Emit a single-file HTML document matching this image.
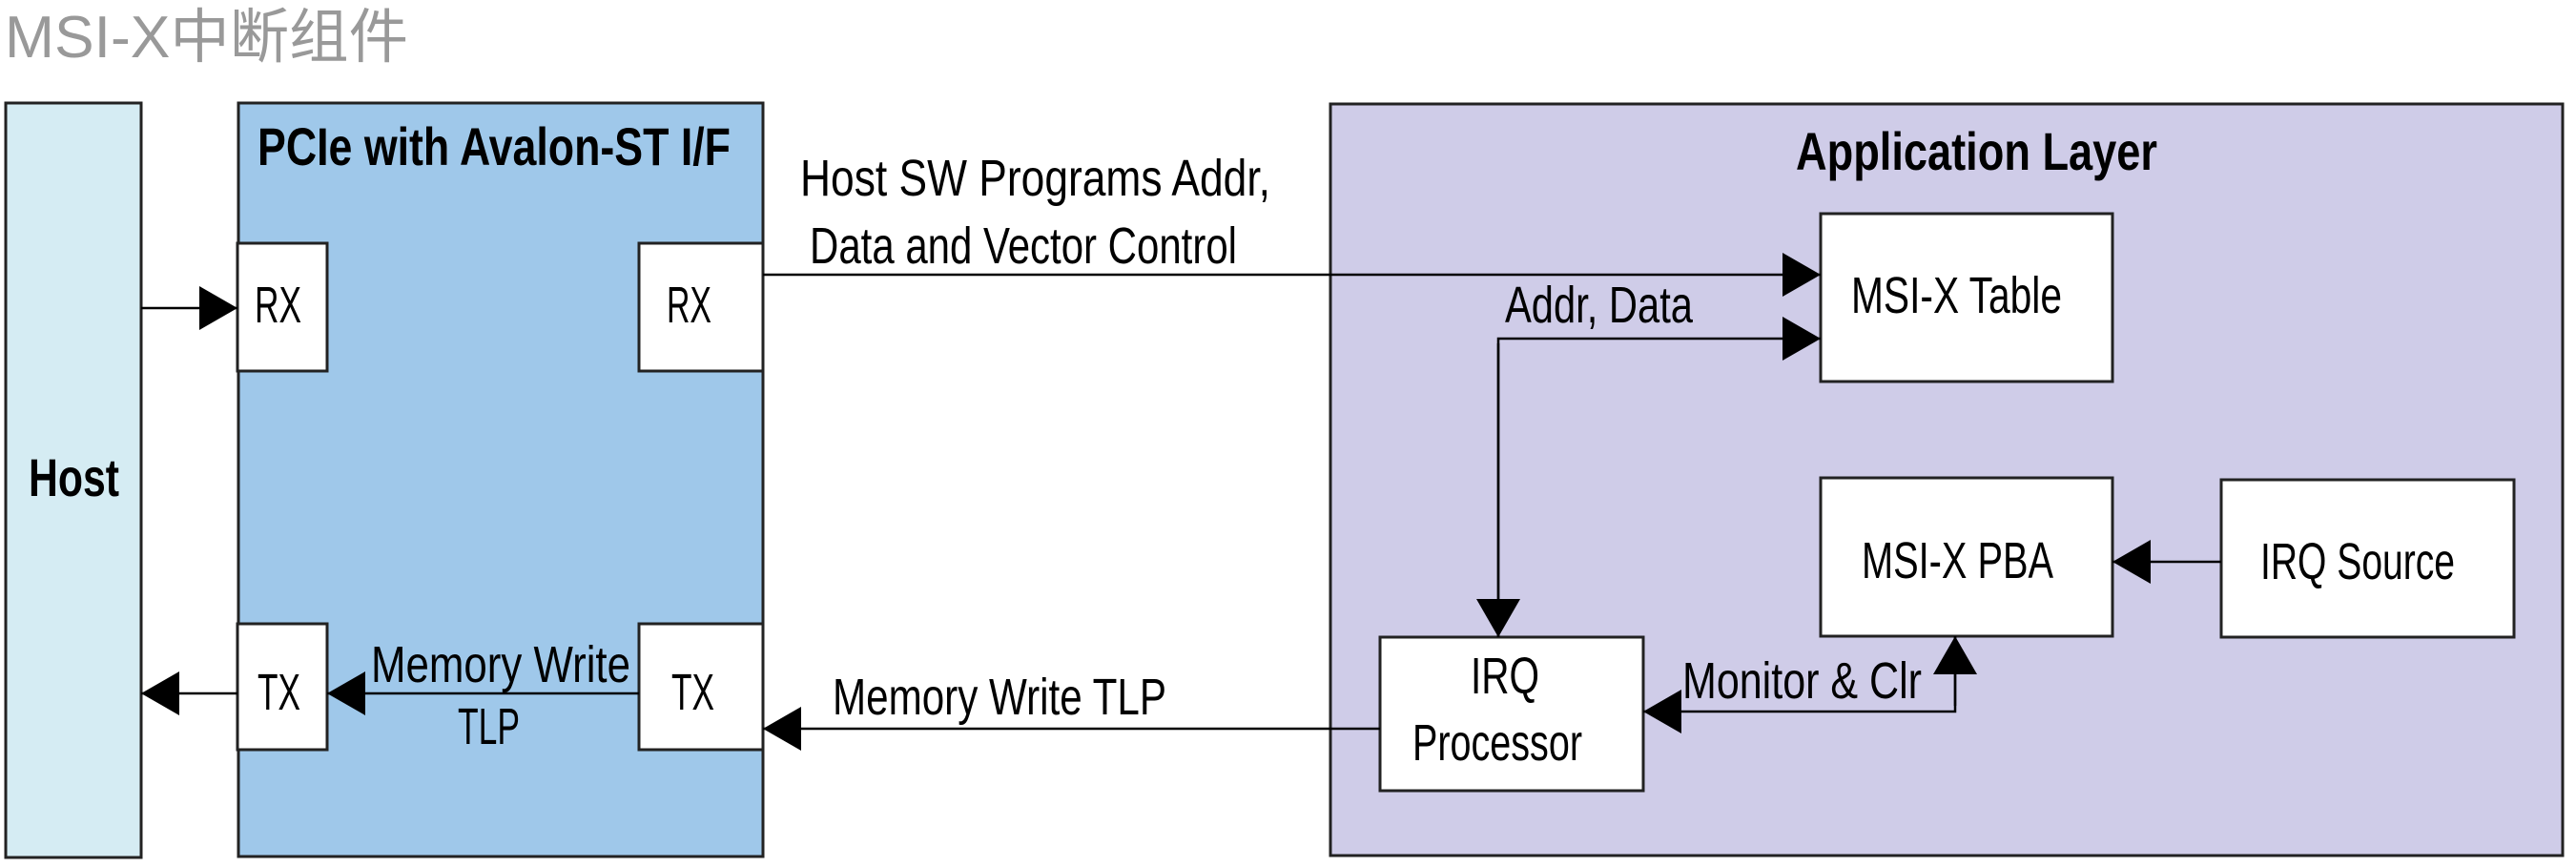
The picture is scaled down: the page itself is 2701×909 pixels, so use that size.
<!DOCTYPE html>
<html><head><meta charset="utf-8"><style>html,body{margin:0;padding:0;background:#fff}svg{display:block}</style></head>
<body>
<svg width="2701" height="909" viewBox="0 0 2701 909" xmlns="http://www.w3.org/2000/svg">
<defs>
<marker id="a" viewBox="0 0 40 46" markerWidth="40" markerHeight="46" refX="40" refY="23" orient="auto" markerUnits="userSpaceOnUse"><path d="M0,0 L40,23 L0,46 Z" fill="#000"/></marker>
</defs>
<g font-family="'Liberation Sans Narrow','Liberation Sans',sans-serif" fill="#000">
<text x="5" y="60" font-size="62" fill="#999" font-family="'Liberation Sans','Noto Sans CJK SC',sans-serif" textLength="423" lengthAdjust="spacingAndGlyphs">MSI-X中断组件</text>

<rect x="6" y="108" width="142" height="791" fill="#d5ecf3" stroke="#222" stroke-width="3"/>
<rect x="250" y="108" width="550" height="790" fill="#9fc8ea" stroke="#222" stroke-width="3"/>
<rect x="1395" y="109" width="1292" height="788" fill="#cfcce8" stroke="#222" stroke-width="3"/>

<text x="30" y="520" font-size="56" font-weight="bold" textLength="95" lengthAdjust="spacingAndGlyphs">Host</text>
<text x="270" y="173" font-size="56" font-weight="bold" textLength="496" lengthAdjust="spacingAndGlyphs">PCIe with Avalon-ST I/F</text>
<text x="1883" y="178" font-size="56" font-weight="bold" textLength="379" lengthAdjust="spacingAndGlyphs">Application Layer</text>

<g fill="#fff" stroke="#222" stroke-width="3">
<rect x="249" y="255" width="94" height="134"/>
<rect x="670" y="255" width="130" height="134"/>
<rect x="249" y="654" width="94" height="132"/>
<rect x="670" y="654" width="130" height="132"/>
<rect x="1909" y="224" width="306" height="176"/>
<rect x="1909" y="501" width="306" height="166"/>
<rect x="2329" y="503" width="307" height="165"/>
<rect x="1447" y="668" width="276" height="161"/>
</g>

<g font-size="54">
<text x="267" y="338" textLength="49" lengthAdjust="spacingAndGlyphs">RX</text>
<text x="699" y="338" textLength="47" lengthAdjust="spacingAndGlyphs">RX</text>
<text x="270" y="744" textLength="45" lengthAdjust="spacingAndGlyphs">TX</text>
<text x="704" y="744" textLength="45" lengthAdjust="spacingAndGlyphs">TX</text>
<text x="389" y="715" textLength="272" lengthAdjust="spacingAndGlyphs">Memory Write</text>
<text x="480" y="780" textLength="65" lengthAdjust="spacingAndGlyphs">TLP</text>
<text x="839" y="205" textLength="493" lengthAdjust="spacingAndGlyphs">Host SW Programs Addr,</text>
<text x="849" y="276" textLength="448" lengthAdjust="spacingAndGlyphs">Data and Vector Control</text>
<text x="1578" y="338" textLength="197" lengthAdjust="spacingAndGlyphs">Addr, Data</text>
<text x="1941" y="328" textLength="221" lengthAdjust="spacingAndGlyphs">MSI-X Table</text>
<text x="1952" y="606" textLength="201" lengthAdjust="spacingAndGlyphs">MSI-X PBA</text>
<text x="2370" y="607" textLength="204" lengthAdjust="spacingAndGlyphs">IRQ Source</text>
<text x="1542" y="727" textLength="72" lengthAdjust="spacingAndGlyphs">IRQ</text>
<text x="1481" y="797" textLength="178" lengthAdjust="spacingAndGlyphs">Processor</text>
<text x="1764" y="732" textLength="251" lengthAdjust="spacingAndGlyphs">Monitor &amp; Clr</text>
<text x="873" y="749" textLength="350" lengthAdjust="spacingAndGlyphs">Memory Write TLP</text>
</g>

<g stroke="#000" stroke-width="2.5" fill="none">
<line x1="148" y1="323" x2="249" y2="323" marker-end="url(#a)"/>
<line x1="249" y1="727" x2="148" y2="727" marker-end="url(#a)"/>
<line x1="670" y1="727" x2="343" y2="727" marker-end="url(#a)"/>
<line x1="800" y1="288" x2="1909" y2="288" marker-end="url(#a)"/>
<polyline points="1571,668 1571,355 1909,355" marker-end="url(#a)"/>
<line x1="1571" y1="360" x2="1571" y2="668" marker-end="url(#a)"/>
<line x1="2329" y1="589" x2="2215" y2="589" marker-end="url(#a)"/>
<polyline points="2050,667 2050,746 1723,746" marker-end="url(#a)"/>
<line x1="2050" y1="740" x2="2050" y2="667" marker-end="url(#a)"/>
<line x1="1447" y1="764" x2="800" y2="764" marker-end="url(#a)"/>
</g>
</g>
</svg>
</body></html>
